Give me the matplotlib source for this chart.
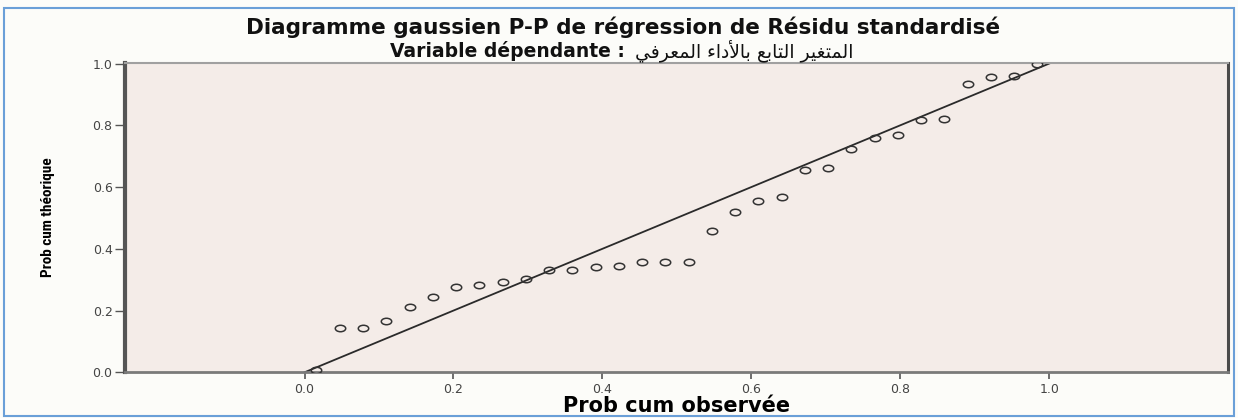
import matplotlib
matplotlib.use('Agg')
import matplotlib.pyplot as plt
from matplotlib.path import Path
from matplotlib.patches import Rectangle

# Observed vs expected cumulative probabilities of the standardized residuals
prob_observed = [0.016, 0.047, 0.078, 0.109, 0.141, 0.172, 0.203, 0.234,
                 0.266, 0.297, 0.328, 0.359, 0.391, 0.422, 0.453, 0.484,
                 0.516, 0.547, 0.578, 0.609, 0.641, 0.672, 0.703, 0.734,
                 0.766, 0.797, 0.828, 0.859, 0.891, 0.922, 0.953, 0.984]
prob_expected = [0.007, 0.142, 0.142, 0.166, 0.210, 0.243, 0.275, 0.283,
                 0.291, 0.301, 0.330, 0.332, 0.340, 0.344, 0.356, 0.356,
                 0.356, 0.458, 0.518, 0.554, 0.568, 0.655, 0.663, 0.722,
                 0.760, 0.769, 0.816, 0.819, 0.933, 0.955, 0.959, 0.998]
ref_line = [0.0, 1.0]
tick_values = [0.0, 0.2, 0.4, 0.6, 0.8, 1.0]
tick_labels = ['0.0', '0.2', '0.4', '0.6', '0.8', '1.0']

title = 'Diagramme gaussien P-P de régression de Résidu standardisé'


def shaped_arabic(words):
    # words are given as presentation-form glyphs in logical order;
    # reverse everything so the left-to-right renderer lays them out RTL
    return ' '.join(w[::-1] for w in reversed(words))


dep_var_words = [
    '\uFE8D\uFEDF\uFEE4\uFE98\uFED0\uFEF4\uFEAE',   # المتغير
    '\uFE8D\uFEDF\uFE98\uFE8E\uFE91\uFECA',         # التابع
    '\uFE91\uFE8E\uFEF7\uFEA9\uFE8D\uFE80',         # بالأداء
    '\uFE8D\uFEDF\uFEE4\uFECC\uFEAE\uFED3\uFEF2',   # المعرفي
]
subtitle_left = 'Variable dépendante :'
subtitle_right = shaped_arabic(dep_var_words)

fig = plt.figure(figsize=(12.38, 4.18), dpi=100, facecolor='#fcfcf9')
ax = fig.add_axes([0.101, 0.1093, 0.891, 0.741])
ax.set_facecolor('#f4ece8')

# thin blue frame around the whole chart
fig.patches.append(Rectangle((0.003, 0.004), 0.994, 0.976, transform=fig.transFigure,
                             fill=False, edgecolor='#6a9fd8', linewidth=1.5))

oval = Path(Path.unit_circle().vertices * [1.0, 0.62], Path.unit_circle().codes)

ax.plot(ref_line, ref_line, color='#2a2a2a', linewidth=1.3, zorder=2)
ax.plot(prob_observed, prob_expected, linestyle='none', marker=oval, markersize=7.5,
        markerfacecolor='none', markeredgecolor='#333333', markeredgewidth=1.1, zorder=3)

ax.set_xlim(-0.241, 1.24)
ax.set_ylim(0.0, 1.003)
ax.set_xticks(tick_values)
ax.set_xticklabels(tick_labels)
ax.set_yticks(tick_values)
ax.set_yticklabels(tick_labels)
ax.tick_params(axis='both', labelsize=9, labelcolor='#444444', color='#555555')
ax.tick_params(axis='x', length=5, width=1.2, pad=3)
ax.tick_params(axis='y', length=7, width=1.0, pad=2)

ax.spines['left'].set_color('#555555')
ax.spines['left'].set_linewidth(3)
ax.spines['bottom'].set_color('#7a7a7a')
ax.spines['bottom'].set_linewidth(2)
ax.spines['top'].set_color('#a0a0a0')
ax.spines['top'].set_linewidth(1.5)
ax.spines['right'].set_color('#4a4a4a')
ax.spines['right'].set_linewidth(2.2)

ax.set_xlabel('Prob cum observée', fontsize=15, fontweight='bold', labelpad=0)
ax.set_ylabel('Prob cum théorique', fontsize=11, fontweight='bold',
              family=['Liberation Sans Narrow', 'Roboto Condensed', 'DejaVu Sans'],
              fontstretch='condensed', labelpad=27)

fig.text(0.5036, 0.918, title, ha='center', va='baseline',
         fontsize=15.5, fontweight='bold', color='#111111')
fig.text(0.5045, 0.863, subtitle_left, ha='right', va='baseline',
         fontsize=13.5, fontweight='bold', color='#111111')
fig.text(0.513, 0.863, subtitle_right, ha='left', va='baseline',
         fontsize=13.5, color='#111111', family=['DejaVu Sans'])

plt.savefig('out.png', dpi=100, facecolor=fig.get_facecolor())
plt.close()
